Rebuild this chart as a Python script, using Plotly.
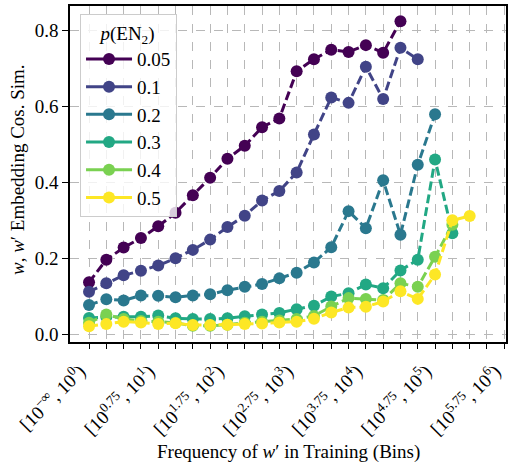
import plotly.graph_objects as go

# ---- data ----
bin_index = list(range(25))
tick_labels = {
    0: "[10<sup>−∞</sup>, 10<sup>0</sup>)",
    4: "[10<sup>0.75</sup>, 10<sup>1</sup>)",
    8: "[10<sup>1.75</sup>, 10<sup>2</sup>)",
    12: "[10<sup>2.75</sup>, 10<sup>3</sup>)",
    16: "[10<sup>3.75</sup>, 10<sup>4</sup>)",
    20: "[10<sup>4.75</sup>, 10<sup>5</sup>)",
    24: "[10<sup>5.75</sup>, 10<sup>6</sup>)",
}
series_names = ["0.05", "0.1", "0.2", "0.3", "0.4", "0.5"]

p005 = [0.137, 0.196, 0.228, 0.253, 0.284, 0.320, 0.366, 0.412, 0.462, 0.496,
        0.545, 0.568, 0.692, 0.724, 0.749, 0.743, 0.761, 0.741, 0.824]
p01 = [0.112, 0.134, 0.155, 0.167, 0.181, 0.200, 0.222, 0.249, 0.282, 0.312,
       0.352, 0.377, 0.426, 0.526, 0.623, 0.609, 0.704, 0.619, 0.754, 0.724]
p02 = [0.077, 0.092, 0.089, 0.102, 0.101, 0.097, 0.102, 0.105, 0.116, 0.125,
       0.132, 0.147, 0.162, 0.189, 0.229, 0.324, 0.279, 0.405, 0.262, 0.446, 0.579]
p03 = [0.043, 0.045, 0.046, 0.046, 0.049, 0.042, 0.040, 0.040, 0.042, 0.047,
       0.052, 0.056, 0.066, 0.075, 0.099, 0.108, 0.131, 0.121, 0.168, 0.196, 0.460, 0.266]
p04 = [0.030, 0.052, 0.040, 0.035, 0.033, 0.030, 0.022, 0.022, 0.025, 0.030,
       0.033, 0.036, 0.040, 0.048, 0.073, 0.095, 0.093, 0.090, 0.134, 0.125, 0.204, 0.288]
p05 = [0.021, 0.027, 0.033, 0.031, 0.027, 0.029, 0.024, 0.024, 0.025, 0.027,
       0.028, 0.031, 0.033, 0.041, 0.057, 0.070, 0.072, 0.086, 0.113, 0.093, 0.157, 0.300, 0.311]

all_series = [p005, p01, p02, p03, p04, p05]
colors = ["#440154", "#414487", "#2a788e", "#22a884", "#7ad151", "#fde725"]

FONT = "Liberation Serif"

fig = go.Figure()
for name, vals, col in zip(series_names, all_series, colors):
    fig.add_trace(go.Scatter(
        x=bin_index[:len(vals)], y=vals, mode="lines+markers",
        line=dict(color=col, width=3, dash="9px,4px"),
        marker=dict(color=col, size=12),
        showlegend=False, name=name,
    ))
# legend handles (solid lines, as in the reference legend)
for i, (name, col) in enumerate(zip(series_names, colors)):
    fig.add_trace(go.Scatter(
        x=[None], y=[None], mode="lines+markers", name=name,
        line=dict(color=col, width=3), marker=dict(color=col, size=12),
        legendgroup=f"g{i}", showlegend=True,
    ))

fig.update_layout(
    width=508, height=463,
    margin=dict(l=70, r=2, t=6, b=121, autoexpand=False),
    paper_bgcolor="white", plot_bgcolor="white",
    font=dict(family=FONT, size=16, color="black"),
    legend=dict(
        x=0.023, y=0.975, xanchor="left", yanchor="top",
        bgcolor="rgba(255,255,255,0.8)", bordercolor="#cccccc", borderwidth=1,
        title=dict(text="<i>p</i>(EN<sub>2</sub>)", side="top center",
                   font=dict(family=FONT, size=19)),
        font=dict(family=FONT, size=19),
        itemwidth=46, tracegroupgap=0,
    ),
)
fig.update_xaxes(
    range=[-1.1, 24.1], tickmode="array", tickvals=bin_index,
    ticktext=[tick_labels.get(i, "") for i in bin_index],
    tickangle=-45, ticks="outside", ticklen=5, tickwidth=1.2, tickcolor="black",
    showline=True, linecolor="black", linewidth=1.5, mirror=True,
    showgrid=True, gridcolor="#b8b8b8", gridwidth=0.8, griddash="dash",
    zeroline=False, tickfont=dict(family=FONT, size=19), automargin=False,
    ticklabeloverflow="allow", ticklabelshift=-9, ticklabelstandoff=4,
)
fig.update_yaxes(
    range=[-0.0205, 0.864], tickvals=[0.0, 0.2, 0.4, 0.6, 0.8],
    ticktext=["0.0", "0.2", "0.4", "0.6", "0.8"],
    ticks="outside", ticklen=6, tickwidth=1.2, tickcolor="black",
    showline=True, linecolor="black", linewidth=1.5, mirror=True,
    showgrid=True, gridcolor="#b8b8b8", gridwidth=0.8, griddash="dash",
    zeroline=False, tickfont=dict(family=FONT, size=19), automargin=False,
)
fig.add_annotation(
    text="Frequency of <i>w</i>′ in Training (Bins)", xref="paper", yref="paper",
    x=(288 - 70) / 436, y=-(452 - 342) / 336, showarrow=False,
    font=dict(family=FONT, size=19), xanchor="center", yanchor="middle",
)
fig.add_annotation(
    text="<i>w</i>, <i>w</i>′ Embedding Cos. Sim.", xref="paper", yref="paper",
    x=-(70 - 17) / 436, y=(342 - 170) / 336, showarrow=False, textangle=-90,
    font=dict(family=FONT, size=19), xanchor="center", yanchor="middle",
)
fig.write_html("out.html", config={"displayModeBar": False},
               post_script="document.body.style.margin='0';")
